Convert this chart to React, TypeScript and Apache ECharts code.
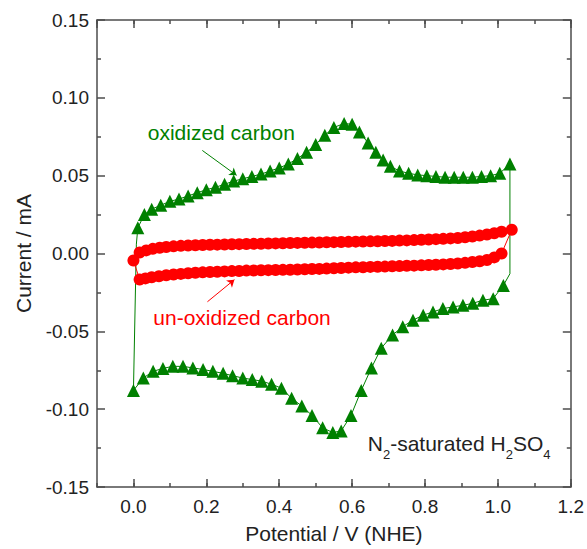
import React, { useEffect, useRef } from "react";
import * as echarts from "echarts";

// ---------- axis ranges ----------
const X_MIN = -0.1;
const X_MAX = 1.2;
const X_MINOR_STEP = 0.1;
const Y_MIN = -0.15;
const Y_MAX = 0.15;
const Y_STEP = 0.05;

// ---------- oxidized carbon (green triangles) ----------
const oxForwardX = [
  0.012, 0.03, 0.05, 0.075, 0.1, 0.125, 0.15, 0.175, 0.2, 0.225, 0.25, 0.275,
  0.3, 0.325, 0.35, 0.375, 0.4, 0.425, 0.45, 0.475, 0.5, 0.525, 0.55, 0.578,
  0.6, 0.62, 0.644, 0.665, 0.685, 0.705, 0.73, 0.755, 0.78, 0.805, 0.83, 0.855,
  0.88, 0.905, 0.93, 0.955, 0.98, 1.005, 1.033,
];
const oxForwardY = [
  0.0165, 0.025, 0.0285, 0.031, 0.0335, 0.035, 0.037, 0.039, 0.041, 0.0425,
  0.0445, 0.0465, 0.048, 0.0495, 0.051, 0.053, 0.055, 0.0575, 0.061, 0.065,
  0.07, 0.076, 0.081, 0.0835, 0.083, 0.078, 0.071, 0.065, 0.06, 0.056, 0.053,
  0.0515, 0.0505, 0.05, 0.0495, 0.049, 0.049, 0.049, 0.049, 0.0495, 0.05,
  0.0515, 0.0575,
];
const oxRightTurn = [1.033, -0.013];
const oxReverseX = [
  1.015, 0.987, 0.959, 0.931, 0.904, 0.877, 0.849, 0.822, 0.795, 0.767, 0.739,
  0.711, 0.68, 0.653, 0.625, 0.597, 0.57, 0.547, 0.519, 0.49, 0.462, 0.434,
  0.406, 0.379, 0.352, 0.326, 0.3, 0.272, 0.246, 0.218, 0.191, 0.163, 0.136,
  0.108, 0.081, 0.054, 0.027, 0.0,
];
const oxReverseY = [
  -0.0205, -0.029, -0.03, -0.032, -0.0333, -0.0343, -0.0354, -0.0375, -0.0396,
  -0.0428, -0.047, -0.0523, -0.0608, -0.0735, -0.088, -0.104, -0.114, -0.115,
  -0.112, -0.104, -0.098, -0.093, -0.0865, -0.084, -0.082, -0.081, -0.08,
  -0.0785, -0.077, -0.0757, -0.0745, -0.0735, -0.0725, -0.0725, -0.0738,
  -0.0757, -0.08, -0.088,
];
const oxLeftTurn = [0.008, 0.006];

// ---------- un-oxidized carbon (red circles) ----------
const unForwardX = [
  0.0, 0.017, 0.035, 0.053, 0.072, 0.09, 0.11, 0.13, 0.15, 0.17, 0.19, 0.21,
  0.23, 0.25, 0.27, 0.29, 0.31, 0.33, 0.35, 0.37, 0.39, 0.41, 0.43, 0.45, 0.47,
  0.49, 0.51, 0.53, 0.55, 0.57, 0.59, 0.61, 0.63, 0.65, 0.67, 0.69, 0.71, 0.73,
  0.75, 0.77, 0.79, 0.81, 0.83, 0.85, 0.87, 0.89, 0.91, 0.93, 0.95, 0.97, 0.99,
  1.01, 1.038,
];
const unForwardY = [
  -0.0045, 0.0006, 0.002, 0.003, 0.0037, 0.0042, 0.0046, 0.0049, 0.0051,
  0.0053, 0.0055, 0.0056, 0.0057, 0.0058, 0.0059, 0.006, 0.0061, 0.0062,
  0.0063, 0.0064, 0.0065, 0.0066, 0.0067, 0.0068, 0.0069, 0.007, 0.0071,
  0.0072, 0.0073, 0.0074, 0.0075, 0.0076, 0.0077, 0.0078, 0.0079, 0.008,
  0.0081, 0.0083, 0.0084, 0.0086, 0.0088, 0.009, 0.0092, 0.0094, 0.0097, 0.01,
  0.0104, 0.0109, 0.0115, 0.0122, 0.013, 0.014, 0.0153,
];
const unReverseX = [
  1.01, 0.99, 0.97, 0.95, 0.93, 0.91, 0.89, 0.87, 0.85, 0.83, 0.81, 0.79, 0.77,
  0.75, 0.73, 0.71, 0.69, 0.67, 0.65, 0.63, 0.61, 0.59, 0.57, 0.55, 0.53, 0.51,
  0.49, 0.47, 0.45, 0.43, 0.41, 0.39, 0.37, 0.35, 0.33, 0.31, 0.29, 0.27, 0.25,
  0.23, 0.21, 0.19, 0.17, 0.15, 0.13, 0.11, 0.09, 0.07, 0.05, 0.033, 0.017,
];
const unReverseY = [
  0.0, -0.0025, -0.0042, -0.005, -0.0055, -0.006, -0.0064, -0.0067, -0.007,
  -0.0072, -0.0074, -0.0076, -0.0078, -0.0079, -0.0081, -0.0082, -0.0084,
  -0.0085, -0.0086, -0.0088, -0.0089, -0.0091, -0.0093, -0.0095, -0.0097,
  -0.0099, -0.01, -0.0101, -0.0103, -0.0104, -0.0105, -0.0106, -0.0107,
  -0.0108, -0.0109, -0.011, -0.0112, -0.0113, -0.0115, -0.0117, -0.0119,
  -0.0121, -0.0124, -0.0127, -0.0131, -0.0135, -0.014, -0.0146, -0.0153,
  -0.016, -0.0167,
];

// ---------- annotations (data coords) ----------
const oxLabel = "oxidized carbon";
const oxLabelPos = [0.241, 0.0776];
const oxArrow = [
  [0.189, 0.0662],
  [0.283, 0.0502],
];
const unLabel = "un-oxidized carbon";
const unLabelPos = [0.298, -0.0413];
const unArrow = [
  [0.203, -0.031],
  [0.277, -0.0168],
];
const condLabelPos = [0.643, -0.1246];

const xTitle = "Potential / V (NHE)";
const yTitle = "Current / mA";

const GREEN = "#008000";
const RED = "#ff0000";
const FONT = "'Liberation Sans', Arial, Helvetica, sans-serif";
const AXIS_COLOR = "#4d4d4d";
const TEXT_COLOR = "#222";

function pts(xs: number[], ys: number[]) {
  return xs.map((x, i) => [x, ys[i]]);
}

export default function App() {
  const ref = useRef<HTMLDivElement>(null);

  useEffect(() => {
    if (!ref.current) return;
    const chart = echarts.init(ref.current, undefined, { renderer: "svg" });

    const greenData: any[] = [
      ...pts(oxForwardX, oxForwardY),
      { value: oxRightTurn, symbol: "none" },
      ...pts(oxReverseX, oxReverseY),
      { value: oxLeftTurn, symbol: "none" },
      { value: [oxForwardX[0], oxForwardY[0]], symbol: "none" },
    ];
    const redData: any[] = [
      ...pts(unForwardX, unForwardY),
      ...pts(unReverseX, unReverseY),
      { value: [unForwardX[0], unForwardY[0]], symbol: "none" },
    ];

    const axisLineStyle = { color: AXIS_COLOR, width: 1.5 };
    const majorX = {
      type: "value",
      min: X_MIN,
      max: X_MAX,
      splitNumber: 6,
      splitLine: { show: false },
      axisLine: { show: true, onZero: false, lineStyle: axisLineStyle },
      axisTick: { show: true, inside: true, length: 8, lineStyle: axisLineStyle },
    };
    const minorX = {
      type: "value",
      min: X_MIN,
      max: X_MAX,
      interval: X_MINOR_STEP,
      splitLine: { show: false },
      axisLine: { show: false, onZero: false },
      axisLabel: { show: false },
      axisTick: { show: true, inside: true, length: 4, lineStyle: axisLineStyle },
    };
    const yBase = {
      type: "value",
      min: Y_MIN,
      max: Y_MAX,
      interval: Y_STEP,
      splitLine: { show: false },
      axisLine: { show: true, onZero: false, lineStyle: axisLineStyle },
      axisTick: { show: true, inside: true, length: 8, lineStyle: axisLineStyle },
      minorTick: { show: true, splitNumber: 2, length: 4, lineStyle: axisLineStyle },
    };

    const option: any = {
      animation: false,
      backgroundColor: "#fff",
      grid: { left: 97, right: 16, top: 20, bottom: 57, containLabel: false },
      xAxis: [
        {
          ...majorX,
          position: "bottom",
          name: xTitle,
          nameLocation: "middle",
          nameGap: 36,
          nameTextStyle: { fontFamily: FONT, fontSize: 21, color: TEXT_COLOR },
          axisLabel: {
            show: true,
            showMinLabel: false,
            margin: 10,
            fontFamily: FONT,
            fontSize: 19,
            color: TEXT_COLOR,
            formatter: (v: number) => v.toFixed(1),
          },
        },
        { ...minorX, position: "bottom" },
        { ...majorX, position: "top", axisLabel: { show: false } },
        { ...minorX, position: "top" },
      ],
      yAxis: [
        {
          ...yBase,
          position: "left",
          name: yTitle,
          nameLocation: "middle",
          nameGap: 63,
          nameTextStyle: { fontFamily: FONT, fontSize: 21, color: TEXT_COLOR },
          axisLabel: {
            show: true,
            margin: 8,
            fontFamily: FONT,
            fontSize: 19,
            color: TEXT_COLOR,
            formatter: (v: number) => v.toFixed(2),
          },
        },
        { ...yBase, position: "right", axisLabel: { show: false } },
      ],
      series: [
        {
          type: "line",
          name: oxLabel,
          xAxisIndex: 0,
          yAxisIndex: 0,
          data: greenData,
          symbol: "triangle",
          symbolSize: 13,
          showSymbol: true,
          itemStyle: { color: GREEN },
          lineStyle: { color: GREEN, width: 1 },
          z: 2,
          markLine: {
            silent: true,
            symbol: ["none", "arrow"],
            symbolSize: 7,
            label: { show: false },
            lineStyle: { color: GREEN, width: 1, type: "solid" },
            data: [[{ coord: oxArrow[0] }, { coord: oxArrow[1] }]],
          },
        },
        {
          type: "line",
          name: unLabel,
          xAxisIndex: 0,
          yAxisIndex: 0,
          data: redData,
          symbol: "circle",
          symbolSize: 12,
          showSymbol: true,
          itemStyle: { color: RED },
          lineStyle: { color: RED, width: 1 },
          z: 3,
          markLine: {
            silent: true,
            symbol: ["none", "arrow"],
            symbolSize: 7,
            label: { show: false },
            lineStyle: { color: RED, width: 1, type: "solid" },
            data: [[{ coord: unArrow[0] }, { coord: unArrow[1] }]],
          },
        },
      ],
    };

    chart.setOption(option);

    const toPx = (p: number[]) => chart.convertToPixel({ seriesIndex: 0 }, p) as number[];
    const a = toPx(oxLabelPos);
    const b = toPx(unLabelPos);
    const c = toPx(condLabelPos);

    chart.setOption({
      graphic: [
        {
          type: "text",
          x: a[0],
          y: a[1],
          style: {
            text: oxLabel,
            fill: GREEN,
            fontFamily: FONT,
            fontSize: 21,
            align: "center",
            verticalAlign: "middle",
          },
        },
        {
          type: "text",
          x: b[0],
          y: b[1],
          style: {
            text: unLabel,
            fill: RED,
            fontFamily: FONT,
            fontSize: 21,
            align: "center",
            verticalAlign: "middle",
          },
        },
        {
          type: "text",
          x: c[0],
          y: c[1],
          style: {
            text: "{m|N}{s|2}{m|-saturated H}{s|2}{m|SO}{s|4}",
            fill: TEXT_COLOR,
            fontFamily: FONT,
            align: "left",
            verticalAlign: "middle",
            rich: {
              m: { fontFamily: FONT, fontSize: 21, lineHeight: 28, fill: TEXT_COLOR, verticalAlign: "top" },
              s: { fontFamily: FONT, fontSize: 13, lineHeight: 13, fill: TEXT_COLOR, verticalAlign: "bottom" },
            },
          },
        },
      ],
    });

    return () => chart.dispose();
  }, []);

  return (
    <div
      ref={ref}
      style={{ position: "fixed", left: 0, top: 0, width: 587, height: 549 }}
    />
  );
}
